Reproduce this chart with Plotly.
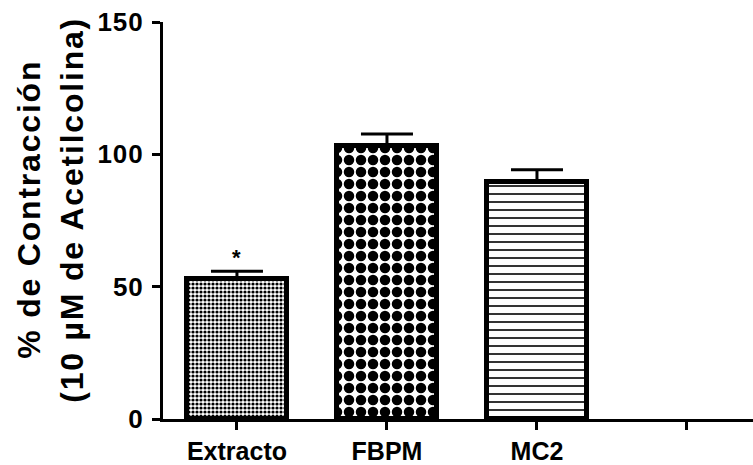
import plotly.graph_objects as go

# Data: % contraction relative to 10 µM acetylcholine (mean ± SEM)
categories = ["Extracto", "FBPM", "MC2"]
means = [53.0, 103.2, 89.4]
sems = [2.8, 4.5, 4.8]
tick_text = ["Extracto", "FBPM", "MC2", ""]
y_ticks = [0, 50, 100, 150]
significance = ["*", "", ""]

patterns = [
    dict(shape=".", size=4, solidity=0.5),
    dict(shape=".", size=12, solidity=0.6),
    dict(shape="-", size=8, solidity=0.2),
]

FONT = "Liberation Sans, Arial, sans-serif"

fig = go.Figure()
for i, (cat, m, s) in enumerate(zip(categories, means, sems)):
    fig.add_trace(go.Bar(
        x=[i], y=[m], width=0.67,
        marker=dict(
            color="white",
            line=dict(color="black", width=5),
            pattern=dict(fgcolor="black", bgcolor="white", fillmode="replace", **patterns[i]),
        ),
        error_y=dict(type="data", array=[s], arrayminus=[0], symmetric=False,
                     color="black", thickness=3, width=26),
        name=cat, showlegend=False,
    ))

# Significance marks above the error bars
for i, (m, s, mark) in enumerate(zip(means, sems, significance)):
    if mark:
        fig.add_annotation(x=i, y=m + s, text=f"<b>{mark}</b>", showarrow=False,
                           yanchor="bottom", yshift=-1,
                           font=dict(family=FONT, size=22, color="black"))

# Two-line y-axis title
title_lines = ["% de Contracción", "(10 µM de Acetilcolina)"]
title_shifts = [-134, -91]
for line, shift in zip(title_lines, title_shifts):
    fig.add_annotation(xref="paper", yref="paper", x=0, y=0.527, xanchor="center", yanchor="middle",
                       xshift=shift, textangle=-90, showarrow=False,
                       text=f"<span style='letter-spacing:1.8px'><b>{line}</b></span>",
                       font=dict(family=FONT, size=32, color="black"))

fig.update_layout(
    width=753, height=465,
    margin=dict(l=163, r=0, t=22, b=41),
    plot_bgcolor="white", paper_bgcolor="white",
    bargap=0,
    font=dict(family=FONT, color="black"),
)
fig.update_xaxes(
    range=[-0.493, 3.44], tickmode="array", tickvals=list(range(len(tick_text))),
    ticktext=[f"<b>{t}</b>" if t else "" for t in tick_text],
    showline=True, linecolor="black", linewidth=3,
    ticks="outside", ticklen=8, tickwidth=3, tickcolor="black",
    tickfont=dict(family=FONT, size=25, color="black"),
    showgrid=False, zeroline=False,
)
fig.update_yaxes(
    range=[0, 150], tickmode="array", tickvals=y_ticks,
    ticktext=[f"<span style='letter-spacing:1px'><b>{v}</b></span>" for v in y_ticks],
    showline=True, linecolor="black", linewidth=3,
    ticks="outside", ticklen=8, tickwidth=3, tickcolor="black",
    ticklabelstandoff=3,
    tickfont=dict(family=FONT, size=26, color="black"),
    showgrid=False, zeroline=False,
)

fig.write_html("out.html")
